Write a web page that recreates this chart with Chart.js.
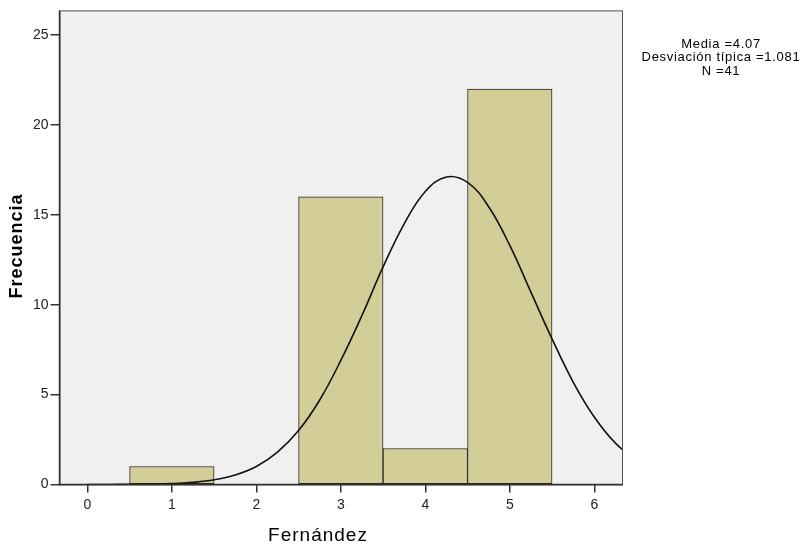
<!DOCTYPE html>
<html>
<head>
<meta charset="utf-8">
<script src="https://cdn.jsdelivr.net/npm/chart.js@4.4.1/dist/chart.umd.min.js"></script>
<style>
  html, body { margin: 0; padding: 0; background: #fff; }
  #wrap { width: 809px; height: 547px; }
</style>
</head>
<body>
<div id="wrap"><canvas id="hist" width="809" height="547"></canvas></div>
<script>
// histogram bins (value centre) and frequencies
const binCentres = [1, 2, 3, 4, 5];
const frequencies = [1, 0, 16, 2, 22];

// normal curve (runs past the right edge and is clipped)
const curveX = [0, 0.25, 0.5, 0.75, 1, 1.25, 1.5, 1.75, 2, 2.25, 2.5, 2.75, 3, 3.25, 3.5, 3.75, 4, 4.25, 4.5, 4.75, 5, 5.25, 5.5, 5.75, 6, 6.25, 6.5];
const curveY = [0, 0, 0.01, 0.02, 0.05, 0.12, 0.26, 0.53, 1.0, 1.8, 3.0, 4.7, 6.9, 9.4, 12.1, 14.5, 16.3, 17.1, 16.8, 15.45, 13.3, 10.7, 8.1, 5.7, 3.75, 2.3, 1.35];

const xTicks = [0, 1, 2, 3, 4, 5, 6];
const yTicks = [0, 5, 10, 15, 20, 25];

const statLines = ['Media =4.07', 'Desviación típica =1.081', 'N =41'];
const xTitle = 'Fernández';
const yTitle = 'Frecuencia';

const FONT = '"Liberation Sans", Arial, sans-serif';

const framePlugin = {
  id: 'frame',
  beforeDraw(chart) {
    const { ctx, chartArea: a } = chart;
    ctx.save();
    ctx.fillStyle = '#f0f0f0';
    ctx.fillRect(a.left, a.top, a.right - a.left, a.bottom - a.top);
    ctx.restore();
  },
  afterDraw(chart) {
    const { ctx, chartArea: a } = chart;
    ctx.save();
    ctx.strokeStyle = '#555';
    ctx.lineWidth = 1;
    ctx.strokeRect(a.left + 0.5, a.top + 0.5, a.right - a.left - 1, a.bottom - a.top);
    ctx.strokeStyle = '#333';
    ctx.lineWidth = 1.5;
    ctx.beginPath();
    ctx.moveTo(a.left, a.top);
    ctx.lineTo(a.left, a.bottom);
    ctx.lineTo(a.right, a.bottom);
    ctx.stroke();

    ctx.fillStyle = '#000';
    ctx.textAlign = 'center';
    ctx.textBaseline = 'middle';
    ctx.letterSpacing = '0.7px';
    ctx.font = '13px ' + FONT;
    statLines.forEach((t, i) => ctx.fillText(t, 721, 44 + i * 13.5));

    ctx.letterSpacing = '1px';
    ctx.font = '19px ' + FONT;
    ctx.fillText(xTitle, 318, 536);

    ctx.font = 'bold 18px ' + FONT;
    ctx.translate(17, 246);
    ctx.rotate(-Math.PI / 2);
    ctx.fillText(yTitle, 0, 0);
    ctx.restore();
  }
};

new Chart(document.getElementById('hist'), {
  type: 'bar',
  data: {
    datasets: [
      {
        type: 'line',
        data: curveX.map((x, i) => ({ x, y: curveY[i] })),
        borderColor: '#111',
        borderWidth: 1.6,
        pointRadius: 0,
        tension: 0.4,
        fill: false,
        order: 0
      },
      {
        type: 'bar',
        data: binCentres.map((x, i) => ({ x, y: frequencies[i] })),
        backgroundColor: '#d3ce97',
        borderColor: '#262626',
        borderWidth: 1,
        borderSkipped: false,
        barPercentage: 1,
        categoryPercentage: 1,
        order: 1
      }
    ]
  },
  options: {
    responsive: false,
    animation: false,
    layout: { padding: { top: 8, right: 186, left: 0, bottom: 0 } },
    plugins: { legend: { display: false }, tooltip: { enabled: false } },
    scales: {
      x: {
        type: 'linear',
        offset: false,
        min: -0.33,
        max: 6.34,
        afterFit(s) { s.height = 62.5; },
        afterBuildTicks(s) { s.ticks = xTicks.map(v => ({ value: v })); },
        ticks: { font: { family: FONT, size: 14 }, color: '#222', padding: 4, maxRotation: 0 },
        grid: { offset: false, drawOnChartArea: false, drawTicks: true, tickLength: 8, color: '#333', lineWidth: 1.5 },
        border: { display: false }
      },
      y: {
        min: 0,
        max: 26.37,
        afterFit(s) { s.width = 59.5; },
        afterBuildTicks(s) { s.ticks = yTicks.map(v => ({ value: v })); },
        ticks: { font: { family: FONT, size: 14 }, color: '#222', padding: 2 },
        grid: { drawOnChartArea: false, drawTicks: true, tickLength: 9, color: '#333', lineWidth: 1.5 },
        border: { display: false }
      }
    }
  },
  plugins: [framePlugin]
});
</script>
</body>
</html>
